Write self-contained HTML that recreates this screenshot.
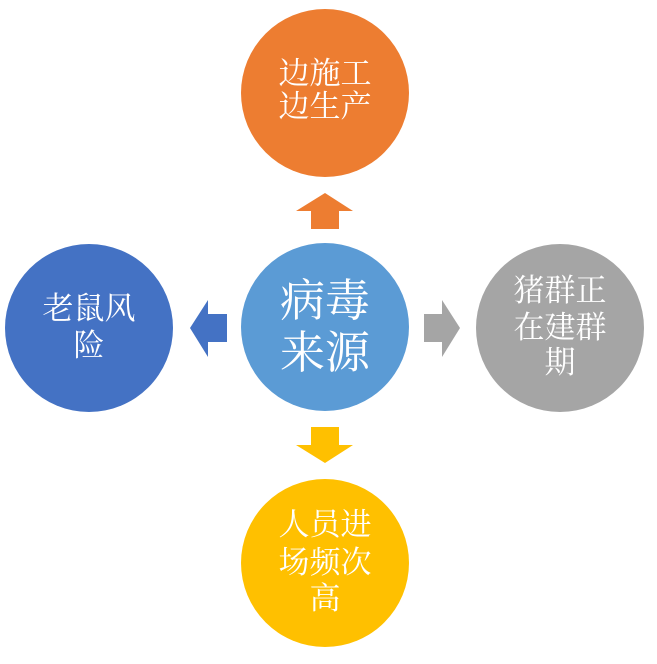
<!DOCTYPE html>
<html><head><meta charset="utf-8"><style>
body{margin:0;width:657px;height:659px;background:#fff;overflow:hidden}
svg text{font-family:"Liberation Serif","Noto Serif CJK SC",serif;fill:#fff;text-anchor:middle}
</style></head><body>
<svg width="657" height="659" xmlns="http://www.w3.org/2000/svg">
<circle cx="325" cy="93" r="84" fill="#ED7D31"/>
<circle cx="325" cy="327" r="84" fill="#5B9BD5"/>
<circle cx="89" cy="328" r="84" fill="#4472C4"/>
<circle cx="560" cy="328" r="84" fill="#A5A5A5"/>
<circle cx="325" cy="563" r="84" fill="#FFC000"/>
<polygon points="296,211 325,193 353,211 339,211 339,229 311,229 311,211" fill="#ED7D31"/>
<polygon points="208,300 190,328 208,357 208,342 227,342 227,314 208,314" fill="#4472C4"/>
<polygon points="442,300 460,328 442,357 442,342 424,342 424,314 442,314" fill="#A5A5A5"/>
<polygon points="296,445 325,463 353,445 339,445 339,427 311,427 311,445" fill="#FFC000"/>
<text x="325" y="84" font-size="31">边施工</text>
<text x="325" y="117" font-size="31">边生产</text>
<text x="325" y="316" font-size="45">病毒</text>
<text x="325" y="368" font-size="45">来源</text>
<text x="89" y="319" font-size="31">老鼠风</text>
<text x="89" y="356" font-size="31">险</text>
<text x="560" y="301" font-size="31">猪群正</text>
<text x="560" y="338" font-size="31">在建群</text>
<text x="560" y="373" font-size="31">期</text>
<text x="325" y="535" font-size="31">人员进</text>
<text x="325" y="573" font-size="31">场频次</text>
<text x="325" y="609" font-size="31">高</text>
</svg>
</body></html>
